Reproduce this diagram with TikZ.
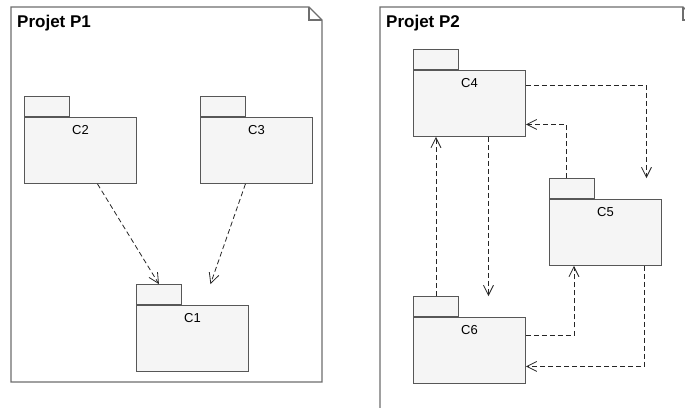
\documentclass[tikz,border=0pt]{standalone}
\usepackage{fontspec}
\setmainfont{Liberation Sans}
\usepackage{tikz}
\usetikzlibrary{arrows.meta, positioning, calc}

\definecolor{pkgfill}{HTML}{F5F5F5}
\definecolor{pkgline}{HTML}{575757}
\definecolor{frameline}{HTML}{6E6E6E}

\begin{document}
\begin{tikzpicture}[
    x=1pt, y=1pt,
    font=\fontsize{13}{15}\selectfont,
    frame/.style={draw=frameline, line width=1.2pt},
    pkg/.style={draw=pkgline, fill=pkgfill, line width=0.9pt, anchor=north west, minimum width=112pt, minimum height=66pt, inner sep=0pt},
    pkgtab/.style={draw=pkgline, fill=pkgfill, line width=0.9pt, anchor=south west, minimum width=45pt, minimum height=20pt, inner sep=0pt},
    pkglabel/.style={anchor=north, inner sep=0pt, yshift=-8pt},
    title/.style={font=\fontsize{17}{19}\selectfont\bfseries, anchor=base west, inner sep=0pt},
    dep/.style={draw=black!85, line width=0.8pt, dash pattern=on 5pt off 3pt, -{Straight Barb[length=10pt, width=10pt]}}
]
    \useasboundingbox (0,0) rectangle (685,407);
    \clip (0,0) rectangle (685,407);
    \fill[white] (0,0) rectangle (685,407);

    % Frames
    \draw[frame] (11,25) -- (11,400) -- (309,400) -- (322,387) -- (322,25) -- cycle;
    \draw[frame] (309,400) |- (322,387);
    \node[title] (p1) at (17,379) {Projet P1};

    \draw[frame] (380,-20) -- (380,400) -- (683,400) -- (696,387) -- (696,-20);
    \draw[frame] (683,400) |- (696,387);
    \node[title] (p2) at (386,379) {Projet P2};

    % Packages of P1
    \node[pkg, label={[pkglabel]north:C2}] (c2) at (24,290) {};
    \node[pkgtab] (c2tab) at (c2.north west) {};
    \node[pkg, label={[pkglabel]north:C3}] (c3) at (200,290) {};
    \node[pkgtab] (c3tab) at (c3.north west) {};
    \node[pkg, label={[pkglabel]north:C1}] (c1) at (136,102) {};
    \node[pkgtab] (c1tab) at (c1.north west) {};

    % Packages of P2
    \node[pkg, label={[pkglabel]north:C4}] (c4) at (413,337) {};
    \node[pkgtab] (c4tab) at (c4.north west) {};
    \node[pkg, label={[pkglabel]north:C5}] (c5) at (549,208) {};
    \node[pkgtab] (c5tab) at (c5.north west) {};
    \node[pkg, label={[pkglabel]north:C6}] (c6) at (413,90) {};
    \node[pkgtab] (c6tab) at (c6.north west) {};

    % Dependencies
    \draw[dep] ([xshift=17pt]c2.south) -- (c1tab.north);
    \draw[dep] ([xshift=-11pt]c3.south) -- ($(c1tab.north -| c1.north)+(18pt,0)$);

    \draw[dep] ([yshift=18pt]c4.east) -| ($(c5tab.north -| c5.north)+(41pt,0)$);
    \draw[dep] ([xshift=-6pt]c5tab.north) |- ([yshift=-21pt]c4.east);
    \draw[dep] ([xshift=19pt]c4.south) -- ($(c6tab.north -| c6.north)+(19pt,0)$);
    \draw[dep] (c6tab.north) -- (c6tab.north |- c4.south);
    \draw[dep] ([yshift=15pt]c6.east) -| ($(c5tab.north |- c5.south)+(2pt,0)$);
    \draw[dep] ([xshift=39pt]c5.south) |- ([yshift=-16pt]c6.east);
\end{tikzpicture}
\end{document}
